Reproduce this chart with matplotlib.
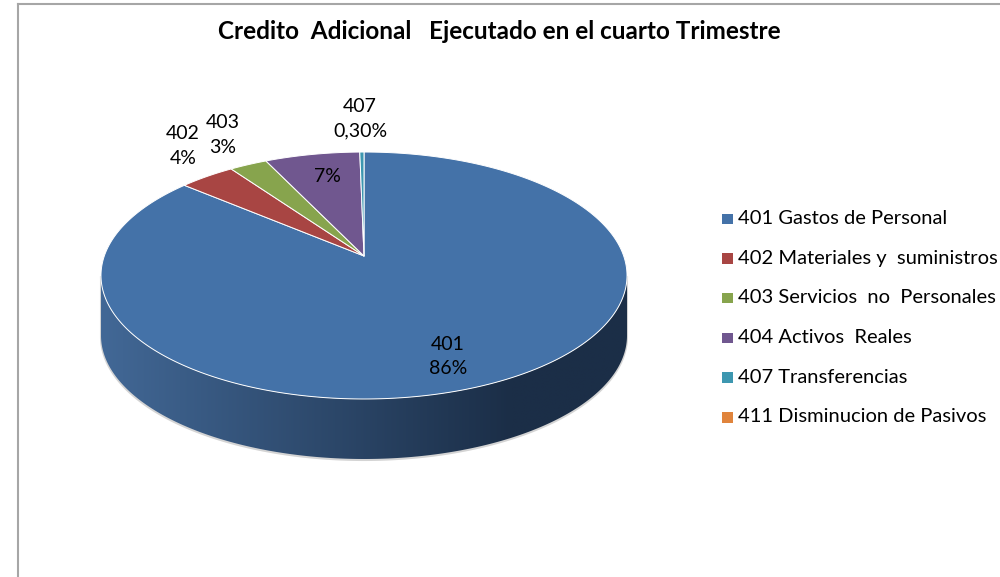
import numpy as np
import matplotlib
matplotlib.use('Agg')
import matplotlib.pyplot as plt
from matplotlib.patches import Polygon, Rectangle

plt.rcParams['font.family'] = ['Lato', 'DejaVu Sans']

#Dados
titulo = 'Credito  Adicional   Ejecutado en el cuarto Trimestre'
legendas = ['401 Gastos de Personal', '402 Materiales y  suministros', '403 Servicios  no  Personales',
            '404 Activos  Reales', '407 Transferencias', '411 Disminucion de Pasivos']
valores = [86.2, 4.0, 2.7, 6.8, 0.3, 0.0]
rotulos = ['401\n86%', '402\n4%', '403\n3%', '7%', '407\n0,30%']
cores = ['#4472a8', '#a84543', '#87a44d', '#70578f', '#3d97b0', '#e0843c']

#Geometria da pizza em perspectiva (pixels)
cx, cy = 364, 256
A, B, k = 259.7, 120.4, 0.158
prof = 60


def projeta(theta):
    # theta em radianos, horario a partir do topo
    u, v = np.sin(theta), np.cos(theta)
    w = 1 + k*v
    return cx + A*u/w, cy - B*v/w


fig = plt.figure(figsize=(10, 5.77), dpi=100)
ax = fig.add_axes([0, 0, 1, 1])
ax.set_xlim(0, 1000), ax.set_ylim(577, 0)
ax.axis('off')

#Moldura
ax.plot([18, 18], [577, 4], color='#a6a6a6', lw=1.5)
ax.plot([18, 1000], [4, 4], color='#a6a6a6', lw=1.5)

#Lateral com gradiente
t = np.linspace(0, 2*np.pi, 721)
xe, ye = projeta(t)
i_esq, i_dir = np.argmin(xe), np.argmax(xe)
ordem = np.arange(i_dir, i_esq + 1)
x_inf, y_inf = xe[ordem], ye[ordem]
lado = np.column_stack([np.r_[x_inf, x_inf[::-1]], np.r_[y_inf + prof, y_inf[::-1]]])
sombra = Polygon(lado + [0, 1], closed=True, fc='#d4d4d4', ec='#d4d4d4', lw=1.5, zorder=1)
ax.add_patch(sombra)
casca = Polygon(lado, closed=True, fc='none', ec='none', zorder=2)
ax.add_patch(casca)
grad = np.linspace(0, 1, 256).reshape(1, -1, 1)
c0 = np.array([0x42, 0x68, 0x96])/255
c1 = np.array([0x1b, 0x2e, 0x47])/255
grad = np.clip(grad/0.78, 0, 1)
img = ax.imshow(c0 + (c1 - c0)*grad, extent=[x_inf.min(), x_inf.max(), y_inf.max() + prof, y_inf.min()],
                aspect='auto', zorder=2, interpolation='bilinear')
img.set_clip_path(casca)
ax.set_xlim(0, 1000), ax.set_ylim(577, 0)

#Fatias a partir dos valores
fim = np.cumsum(valores)/np.sum(valores)*2*np.pi
ini = np.r_[0, fim[:-1]]
for a, b, c in zip(ini, fim, cores):
    if b <= a:
        continue
    arco = np.linspace(a, b, max(int((b - a)*180), 2))
    xs, ys = projeta(arco)
    ax.add_patch(Polygon(np.column_stack([np.r_[cx, xs], np.r_[cy, ys]]), closed=True,
                         fc=c, ec='white', lw=0.7, joinstyle='round', zorder=3))

#Rotulos
pos_rot = [(448, 356.5), (183, 146), (223, 135), (327, 177), (360, 119)]
for s, (x, y) in zip(rotulos, pos_rot):
    ax.text(x, y, s, ha='center', va='center', fontsize=14, color='black',
            linespacing=1.55, zorder=5)

ax.text(499, 31.5, titulo, ha='center', va='center', fontsize=17.5, fontweight='bold', color='black')

#Legenda
for i, (s, c) in enumerate(zip(legendas, cores)):
    y = 218.5 + i*39.7
    ax.add_patch(Rectangle((722, y - 5), 10.5, 10.5, fc=c, ec='none', zorder=4))
    ax.text(738, y, s, ha='left', va='center', fontsize=14.5, color='black')

fig.savefig('out.png', dpi=100)
